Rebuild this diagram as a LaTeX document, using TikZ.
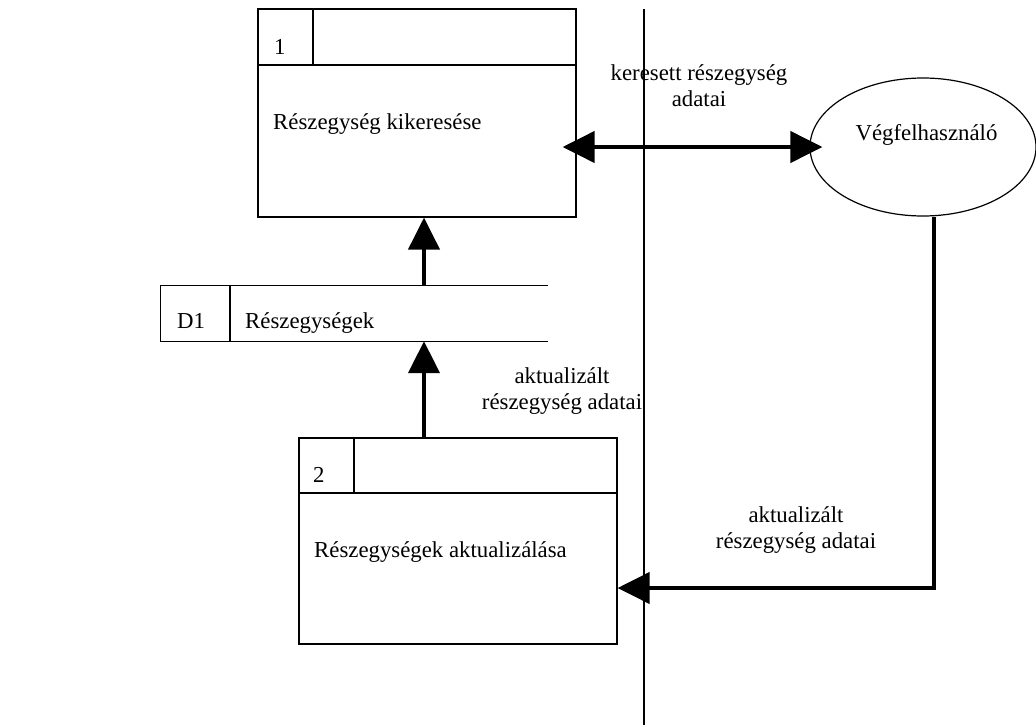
\documentclass[tikz,border=0pt]{standalone}
\usepackage{fontspec}
\setmainfont{Liberation Serif}
\usetikzlibrary{arrows.meta,shapes.geometric}

\tikzset{
  thin line/.style={line width=1.2pt},
  process/.style={draw, thin line, rectangle, inner sep=0pt,
    minimum width=318pt},
  store/.style={rectangle, inner sep=0pt, minimum width=387pt, minimum height=55pt},
  entity/.style={draw, thin line, ellipse, inner sep=0pt,
    minimum width=226pt, minimum height=138pt},
  txt/.style={inner sep=0pt, anchor=base west},
  flowlabel/.style={inner sep=0pt, anchor=north, align=center},
  flow/.style={line width=4.3pt, -{Triangle[length=32pt,width=31pt]}},
  boundary/.style={line width=1.1pt}
}

\begin{document}
\begin{tikzpicture}[x=1pt, y=-1pt,
  font=\fontsize{22.8pt}{26.5pt}\selectfont]
  \useasboundingbox (0,0) rectangle (1036,726);

  % system boundary
  \coordinate (bt) at (644,9);
  \coordinate (bb) at (644,725);
  \draw[boundary] (bt) -- (bb);

  % process 1
  \node[process, minimum height=208pt] (p1) at (417,113) {};
  \draw[thin line] (258,65) -- (576,65);
  \draw[thin line] (313,9) -- (313,65);
  \node[txt] (p1id) at (274,54) {1};
  \node[txt] (p1name) at (273,129) {Részegység kikeresése};

  % data store D1
  \node[store] (d1) at (354.5,313.5) {};
  \draw[thin line] (d1.north east) -- (d1.north west) -- (d1.south west) -- (d1.south east);
  \draw[thin line] (230,286) -- (230,341);
  \node[txt] (d1id) at (177,328) {D1};
  \node[txt] (d1name) at (245,328) {Részegységek};

  % process 2
  \node[process, minimum height=206pt] (p2) at (458,541) {};
  \draw[thin line] (299,493) -- (617,493);
  \draw[thin line] (354,438) -- (354,493);
  \node[txt] (p2id) at (313,482) {2};
  \node[txt] (p2name) at (314,557) {Részegységek aktualizálása};

  % external entity
  \node[entity] (user) at (923,147) {};
  \node[inner sep=0pt, anchor=base] (username) at (926.5,140) {Végfelhasználó};

  % helper coordinates for the flows
  \coordinate (ax) at (424,0);
  \coordinate (lx) at (934,0);
  \coordinate (ay) at (0,588);

  % flows
  \draw[flow] (d1.north -| ax) -- (p1.south -| ax);
  \draw[flow] (p2.north -| ax) -- (d1.south -| ax);
  \draw[line width=4.3pt, {Triangle[length=32pt,width=31pt]}-{Triangle[length=32pt,width=31pt]}]
    ([xshift=-14pt]p1.east |- user.west) -- ([xshift=13pt]user.west);
  \draw[flow] (user.south -| lx) |- (p2.east |- ay);

  % flow labels
  \node[flowlabel] (l1) at (699,64) {keresett részegység\\adatai};
  \node[flowlabel] (l2) at (562,367) {aktualizált\\részegység adatai};
  \node[flowlabel] (l3) at (796,506) {aktualizált\\részegység adatai};
\end{tikzpicture}
\end{document}
